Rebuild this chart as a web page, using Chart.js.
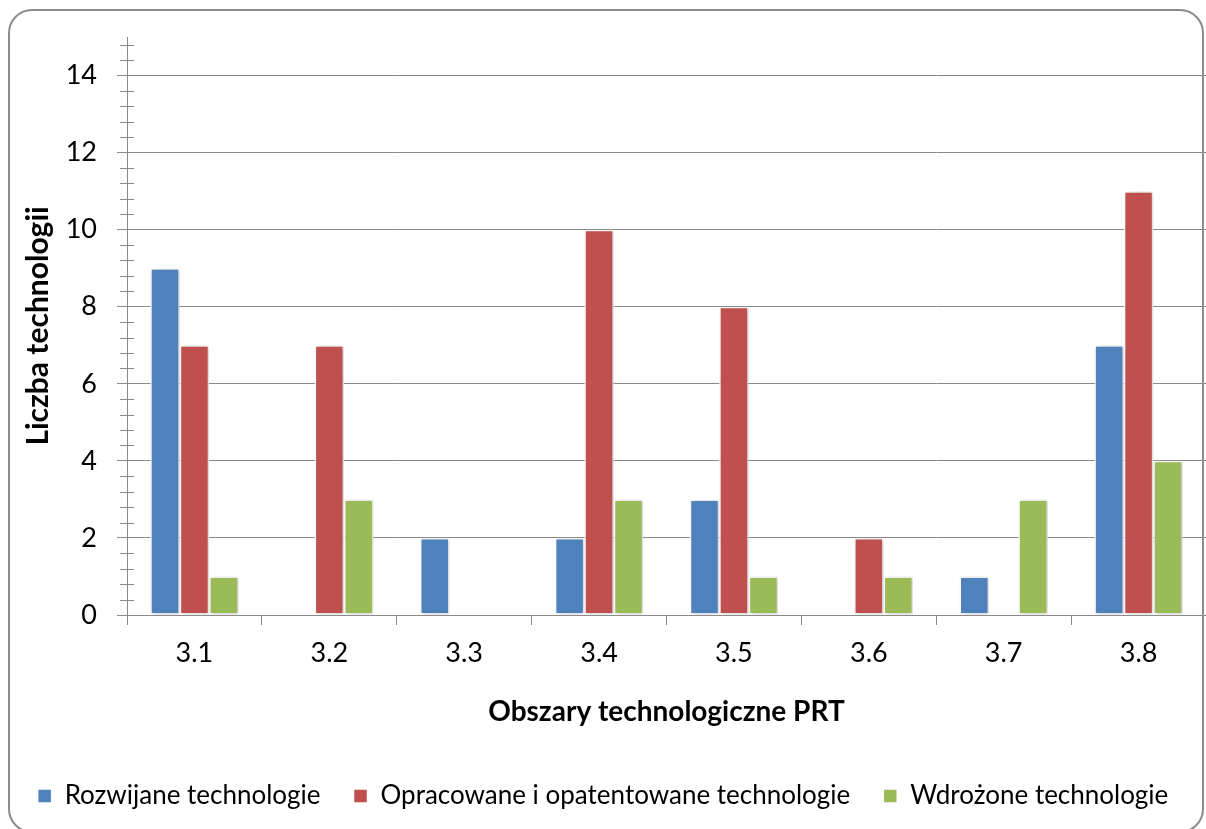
<!DOCTYPE html>
<html>
<head>
<meta charset="utf-8">
<script src="https://cdn.jsdelivr.net/npm/chart.js@4"></script>
<style>
  html, body { margin: 0; padding: 0; background: #ffffff; overflow: hidden; }
  #wrap { position: relative; width: 1206px; height: 829px; overflow: hidden; }
  #frame { position: absolute; left: 8px; top: 9px; width: 1196px; height: 824px;
           border: 2px solid #8c8c8c; border-radius: 24px; box-sizing: border-box; }
  #c { position: absolute; left: 0; top: 0; }
</style>
</head>
<body>
<div id="wrap">
  <div id="frame"></div>
  <canvas id="c" width="1206" height="829"></canvas>
</div>
<script>
const categories = ['3.1', '3.2', '3.3', '3.4', '3.5', '3.6', '3.7', '3.8'];
const rozwijane = [9, 0, 2, 2, 3, 0, 1, 7];
const opracowane = [7, 7, 0, 10, 8, 2, 0, 11];
const wdrozone = [1, 3, 0, 3, 1, 1, 3, 4];
const seriesNames = ['Rozwijane technologie', 'Opracowane i opatentowane technologie', 'Wdrożone technologie'];
const yTickValues = [0, 2, 4, 6, 8, 10, 12, 14];
const yMinorStep = 0.4;
const yMax = 15;

const FONT = 'Lato, Calibri, Carlito, sans-serif';
const GRID = '#8a8a8a';

const minorTicks = {
  id: 'minorTicks',
  afterDraw(chart) {
    const y = chart.scales.y;
    const ctx = chart.ctx;
    const x0 = y.right;
    ctx.save();
    ctx.strokeStyle = GRID;
    ctx.lineWidth = 1;
    ctx.beginPath();
    const n = Math.round(yMax / yMinorStep);
    for (let k = 1; k <= n; k++) {
      if (k % 5 === 0) continue;
      const v = k * yMinorStep;
      if (v > yMax) break;
      const py = Math.round(y.getPixelForValue(v)) + 0.5;
      ctx.moveTo(x0 - 7, py);
      ctx.lineTo(x0 + 7, py);
    }
    ctx.stroke();
    ctx.restore();
  }
};

const barShadow = {
  id: 'barShadow',
  beforeDatasetsDraw(chart) {
    const ctx = chart.ctx;
    ctx.save();
    ctx.shadowColor = 'rgba(0,0,0,0.22)';
    ctx.shadowBlur = 4;
    ctx.shadowOffsetX = 1.5;
    ctx.shadowOffsetY = 0.5;
  },
  afterDatasetsDraw(chart) {
    chart.ctx.restore();
  }
};

function ds(label, data, color) {
  return {
    label, data,
    backgroundColor: color,
    borderColor: '#ffffff',
    borderWidth: 1.5,
    borderSkipped: false,
    barPercentage: 1.0,
    categoryPercentage: 0.655
  };
}

new Chart(document.getElementById('c'), {
  type: 'bar',
  data: {
    labels: categories,
    datasets: [
      ds(seriesNames[0], rozwijane, '#4F81BD'),
      ds(seriesNames[1], opracowane, '#C0504D'),
      ds(seriesNames[2], wdrozone, '#9BBB59')
    ]
  },
  options: {
    responsive: false,
    animation: false,
    layout: { padding: { left: 0, right: 0, top: 37, bottom: 10 } },
    plugins: {
      tooltip: { enabled: false },
      legend: {
        position: 'bottom',
        labels: {
          font: { family: FONT, size: 26 },
          color: '#000000',
          boxWidth: 14,
          boxHeight: 14,
          padding: 33
        }
      }
    },
    scales: {
      x: {
        offset: true,
        grid: { display: true, drawOnChartArea: false, drawTicks: true, tickLength: 10, color: GRID, offset: true },
        border: { display: true, color: GRID, width: 1 },
        ticks: { font: { family: FONT, size: 27 }, color: '#000000', padding: 11.8 },
        title: {
          display: true,
          text: 'Obszary technologiczne PRT',
          font: { family: FONT, size: 28, weight: 'bold' },
          color: '#000000',
          padding: { top: 0, bottom: 21.2 }
        },
        afterFit(scale) { scale.height = 135; }
      },
      y: {
        min: 0,
        max: yMax,
        afterBuildTicks(scale) {
          scale.ticks = yTickValues.map(v => ({ value: v }));
        },
        grid: { color: GRID, tickLength: 10, drawTicks: true },
        border: { display: true, color: GRID, width: 1 },
        ticks: { font: { family: FONT, size: 27 }, color: '#000000', padding: 20 },
        title: {
          display: true,
          text: 'Liczba technologii',
          font: { family: FONT, size: 30, weight: 'bold' },
          color: '#000000',
          padding: { top: 20, bottom: 0 }
        },
        afterFit(scale) { scale.width = 127; }
      }
    }
  },
  plugins: [minorTicks, barShadow]
});
</script>
</body>
</html>
